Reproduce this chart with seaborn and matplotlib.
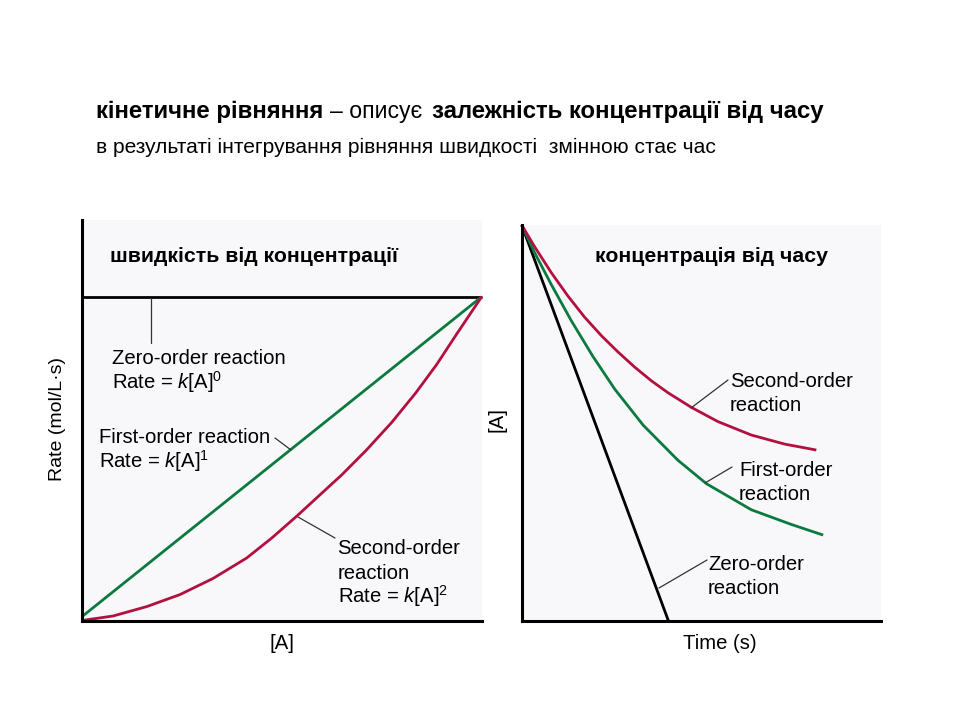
import numpy as np
import pandas as pd
import matplotlib
matplotlib.use("Agg")
import matplotlib.pyplot as plt
import seaborn as sns
from matplotlib.lines import Line2D

# ---------------- data (normalised units) ----------------
# Left panel: rate vs concentration
conc_zero = [0.0, 1.0]
rate_zero = [1.0, 1.0]
conc_first = [0.0, 1.0]
rate_first = [0.012, 1.0]
conc_second = [0.0, 0.078, 0.162, 0.245, 0.328, 0.412, 0.475, 0.537, 0.650, 0.712,
               0.775, 0.835, 0.887, 0.937, 1.0]
rate_second = [0.0, 0.014, 0.043, 0.080, 0.130, 0.193, 0.255, 0.322, 0.450, 0.527,
               0.612, 0.703, 0.790, 0.884, 1.0]

# Right panel: concentration vs time
time_zero = [0.0, 0.408]
a_zero = [1.0, 0.0]
time_first = [0.0, 0.036, 0.082, 0.138, 0.198, 0.259, 0.338, 0.435, 0.514, 0.639, 0.750, 0.839]
a_first = [1.0, 0.930, 0.850, 0.758, 0.668, 0.585, 0.494, 0.405, 0.346, 0.280, 0.243, 0.216]
time_second = [0.0, 0.036, 0.082, 0.129, 0.175, 0.222, 0.268, 0.314, 0.361, 0.407, 0.472,
               0.546, 0.639, 0.732, 0.820]
a_second = [1.0, 0.945, 0.880, 0.820, 0.767, 0.720, 0.679, 0.641, 0.606, 0.576, 0.539,
            0.503, 0.469, 0.446, 0.431]

order_names = ["zero", "first", "second"]

# ---------------- style ----------------
sns.set_theme(style="white")
plt.rcParams["font.family"] = ["Liberation Sans", "DejaVu Sans"]
plt.rcParams["mathtext.fontset"] = "custom"
plt.rcParams["mathtext.rm"] = "Liberation Sans"
plt.rcParams["mathtext.it"] = "Liberation Sans:italic"
plt.rcParams["mathtext.bf"] = "Liberation Sans:bold"
plt.rcParams["text.color"] = "black"
plt.rcParams["axes.labelcolor"] = "black"

palette = {"zero": "#000000", "first": "#0b7a3e", "second": "#b3103f"}

W, H = 960, 720
def fx(x):
    return x / W
def fy(y):
    return 1 - y / H

fig = plt.figure(figsize=(9.6, 7.2), dpi=100)
fig.patch.set_facecolor("white")

ax1 = fig.add_axes([fx(82), fy(620.5), (481.7 - 82) / W, (620.5 - 220) / H])
ax2 = fig.add_axes([fx(521.7), fy(620.5), (881 - 521.7) / W, (620.5 - 225) / H])

left_df = pd.concat([
    pd.DataFrame({"conc": conc_zero, "rate": rate_zero, "order": "zero"}),
    pd.DataFrame({"conc": conc_first, "rate": rate_first, "order": "first"}),
    pd.DataFrame({"conc": conc_second, "rate": rate_second, "order": "second"}),
], ignore_index=True)
right_df = pd.concat([
    pd.DataFrame({"time": time_zero, "A": a_zero, "order": "zero"}),
    pd.DataFrame({"time": time_first, "A": a_first, "order": "first"}),
    pd.DataFrame({"time": time_second, "A": a_second, "order": "second"}),
], ignore_index=True)

sns.lineplot(data=left_df, x="conc", y="rate", hue="order", hue_order=order_names,
             palette=palette, sort=False, estimator=None, linewidth=2.0,
             legend=False, ax=ax1)
sns.lineplot(data=right_df, x="time", y="A", hue="order", hue_order=order_names,
             palette=palette, sort=False, estimator=None, linewidth=2.0,
             legend=False, ax=ax2)

ax1.set_xlim(0, 1)
ax1.set_ylim(0, 1.237)
ax2.set_xlim(0, 1)
ax2.set_ylim(0, 1)

for ax in (ax1, ax2):
    ax.set_facecolor("#f8f8fb")
    for ln in ax.lines:
        ln.set_clip_on(False)
        ln.set_solid_capstyle("butt")
        ln.set_solid_joinstyle("round")
    ax.spines["top"].set_visible(False)
    ax.spines["right"].set_visible(False)
    for s in ("left", "bottom"):
        ax.spines[s].set_color("black")
        ax.spines[s].set_linewidth(2.2)
    ax.set_xticks([])
    ax.set_yticks([])

lab_fs = 14.6
ax1.set_xlabel("[A]", fontsize=lab_fs, color="black")
ax1.xaxis.set_label_coords(0.5, (620.5 - 634) / 400.5)
ax1.set_ylabel("Rate (mol/L·s)", fontsize=14, color="black")
ax1.yaxis.set_label_coords((66 - 82) / 399.7, 0.504)
ax2.set_xlabel("Time (s)", fontsize=lab_fs, color="black")
ax2.xaxis.set_label_coords(0.551, (620.5 - 634) / 395.5)
ax2.set_ylabel("[A]", fontsize=lab_fs, color="black")
ax2.yaxis.set_label_coords((507 - 521.7) / 359.3, 0.507)

# ---------------- titles ----------------
tfs = 17.3
fig.text(fx(96), fy(118), "кінетичне рівняння", fontsize=tfs, fontweight="bold",
         va="baseline", ha="left")
fig.text(fx(330), fy(118), "– описує", fontsize=16.6, va="baseline", ha="left")
fig.text(fx(432), fy(118), "залежність концентрації від часу", fontsize=tfs,
         fontweight="bold", va="baseline", ha="left")
fig.text(fx(96), fy(153), "в результаті інтегрування рівняння швидкості  змінною стає час",
         fontsize=15.1, va="baseline", ha="left")

fig.text(fx(110), fy(261.7), "швидкість від концентрації", fontsize=15.3,
         fontweight="bold", va="baseline", ha="left")
fig.text(fx(595), fy(261.7), "концентрація від часу", fontsize=15.3,
         fontweight="bold", va="baseline", ha="left")

# ---------------- annotations ----------------
afs = 14.6
def lines_at(x, baselines, texts):
    for b, t in zip(baselines, texts):
        fig.text(fx(x), fy(b), t, fontsize=afs, va="baseline", ha="left")

lines_at(112, [364, 389], ["Zero-order reaction", r"Rate = $\mathit{k}$[A]$^{0}$"])
lines_at(99, [443, 468], ["First-order reaction", r"Rate = $\mathit{k}$[A]$^{1}$"])
lines_at(337.5, [554, 579, 603], ["Second-order", "reaction", r"Rate = $\mathit{k}$[A]$^{2}$"])
lines_at(730, [387, 411], ["Second-order", "reaction"])
lines_at(739, [476, 500], ["First-order", "reaction"])
lines_at(708, [570, 594], ["Zero-order", "reaction"])

leaders = [
    ((150.5, 298), (150.5, 343)),
    ((275, 438), (291, 450)),
    ((298, 517), (335, 538)),
    ((691, 408), (728, 380)),
    ((705, 483), (732, 467)),
    ((659, 588), (707, 560)),
]
for (x1, y1), (x2, y2) in leaders:
    fig.add_artist(Line2D([fx(x1), fx(x2)], [fy(y1), fy(y2)], transform=fig.transFigure,
                          color="#333333", linewidth=0.9))

fig.savefig("out.png", dpi=100, facecolor="white")
